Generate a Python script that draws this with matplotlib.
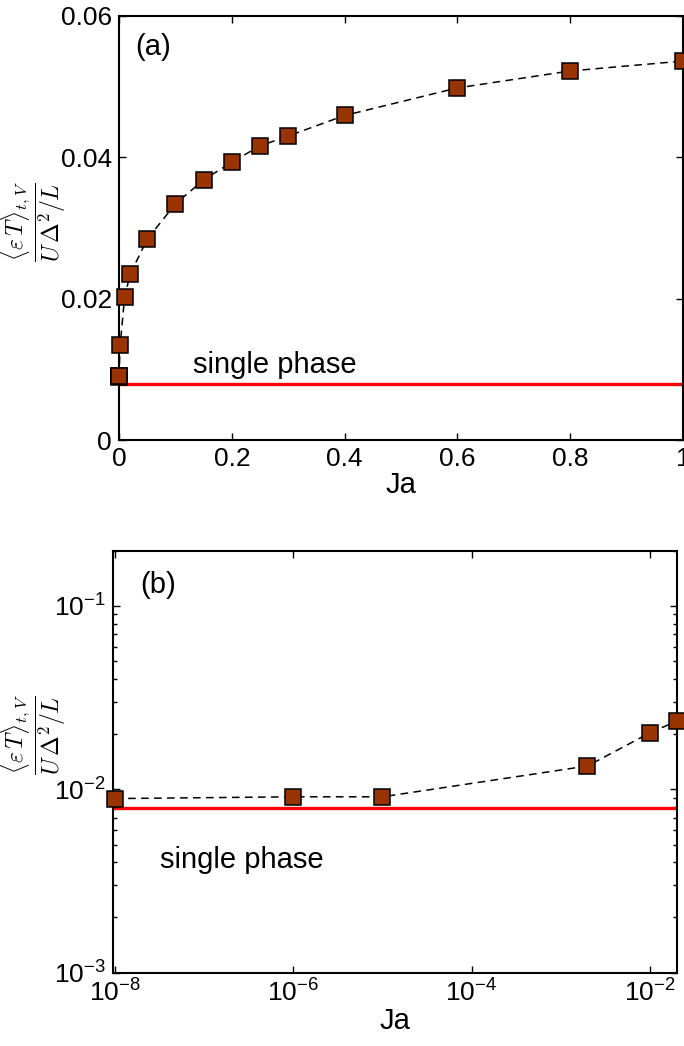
import matplotlib
matplotlib.use('Agg')
import matplotlib.pyplot as plt
import numpy as np
from matplotlib.ticker import FixedLocator, FormatStrFormatter, LogLocator, NullLocator

plt.rcParams['font.family'] = ['Liberation Sans', 'DejaVu Sans']
plt.rcParams['mathtext.fontset'] = 'custom'
plt.rcParams['mathtext.rm'] = 'Liberation Sans'
plt.rcParams['mathtext.it'] = 'Liberation Sans:italic'
plt.rcParams['mathtext.bf'] = 'Liberation Sans:bold'

# data
ja = np.array([1e-8, 1e-6, 1e-5, 2e-3, 1e-2, 2e-2, 0.05, 0.1, 0.15, 0.2,
               0.25, 0.3, 0.4, 0.6, 0.8, 1.0])
eps = np.array([0.0089, 0.0091, 0.0091, 0.0134, 0.0203, 0.0235, 0.0284, 0.0334,
                0.0368, 0.0393, 0.0416, 0.0430, 0.0459, 0.0498, 0.0522, 0.0536])
single_phase = 0.0079

xticks_a = [0, 0.2, 0.4, 0.6, 0.8, 1.0]
yticks_a = [0, 0.02, 0.04, 0.06]
xticks_b = [1e-8, 1e-6, 1e-4, 1e-2]
yticks_b = [1e-3, 1e-2, 1e-1]

ylab = r'$\dfrac{\langle \varepsilon\, T\rangle_{t,V}}{U\,\Delta^2/L}$'
mcolor = '#993300'
fs = 19      # tick labels
fs_txt = 21  # annotations, axis labels

fig = plt.figure(figsize=(6.84, 10.46), dpi=100)
ax1 = fig.add_axes([0.174, 0.5793, 0.8246, 0.4056])
ax2 = fig.add_axes([0.1648, 0.0701, 0.8246, 0.4034])


def style(ax):
    for s in ax.spines.values():
        s.set_linewidth(1.5)
    ax.tick_params(which='both', direction='in', top=True, right=True,
                   labelsize=fs, width=1.0, pad=5)
    ax.tick_params(which='major', length=5)
    ax.tick_params(which='minor', length=3)


# panel (a)
ax1.plot([ja[0], ja[-1]], [single_phase, single_phase], color='red', lw=2.4, zorder=2)
ax1.plot(ja, eps, '--', color='black', lw=1.1, dashes=(5, 3.5), zorder=3)
ax1.plot(ja, eps, 's', ms=11, mfc=mcolor, mec='black', mew=1.1, zorder=4, clip_on=False)
ax1.set_xlim(0, 1)
ax1.set_ylim(0, 0.06)
ax1.xaxis.set_major_locator(FixedLocator(xticks_a))
ax1.yaxis.set_major_locator(FixedLocator(yticks_a))
ax1.xaxis.set_major_formatter(FormatStrFormatter('%g'))
ax1.yaxis.set_major_formatter(FormatStrFormatter('%g'))
style(ax1)
ax1.set_xlabel('Ja', fontsize=fs_txt, labelpad=0)
ax1.text(0.028, 0.926, '(a)', transform=ax1.transAxes, fontsize=fs_txt, ha='left', va='center')
ax1.text(0.131, 0.177, 'single phase', transform=ax1.transAxes, fontsize=fs_txt, ha='left', va='center')

# panel (b)
inb = ja <= 0.02
ax2.plot([ja[0], ja[-1]], [single_phase, single_phase], color='red', lw=2.4, zorder=2)
ax2.plot(ja, eps, '--', color='black', lw=1.1, dashes=(5, 3.5), zorder=3)
ax2.plot(ja[inb], eps[inb], 's', ms=11, mfc=mcolor, mec='black', mew=1.1, zorder=4, clip_on=False)
ax2.set_xscale('log')
ax2.set_yscale('log')
ax2.set_xlim(9.4e-9, 0.0201)
ax2.set_ylim(1e-3, 0.2)
ax2.xaxis.set_major_locator(FixedLocator(xticks_b))
ax2.xaxis.set_minor_locator(NullLocator())
ax2.yaxis.set_major_locator(FixedLocator(yticks_b))
ax2.yaxis.set_minor_locator(LogLocator(base=10, subs=np.arange(2, 10)))
ax2.xaxis.set_major_formatter(matplotlib.ticker.LogFormatterSciNotation())
ax2.yaxis.set_major_formatter(matplotlib.ticker.LogFormatterSciNotation())
ax2.yaxis.set_minor_formatter(matplotlib.ticker.NullFormatter())
style(ax2)
ax2.set_xlabel('Ja', fontsize=fs_txt, labelpad=0)
ax2.text(0.048, 0.919, '(b)', transform=ax2.transAxes, fontsize=fs_txt, ha='left', va='center')
ax2.text(0.084, 0.267, 'single phase', transform=ax2.transAxes, fontsize=fs_txt, ha='left', va='center')

# y labels (fraction in serif math)
fig.text(33 / 684, 1 - 222 / 1046, ylab, rotation=90, ha='center', va='center',
         fontsize=17, math_fontfamily='cm')
fig.text(33 / 684, 1 - 735 / 1046, ylab, rotation=90, ha='center', va='center',
         fontsize=17, math_fontfamily='cm')

fig.savefig('out.png', dpi=100)
